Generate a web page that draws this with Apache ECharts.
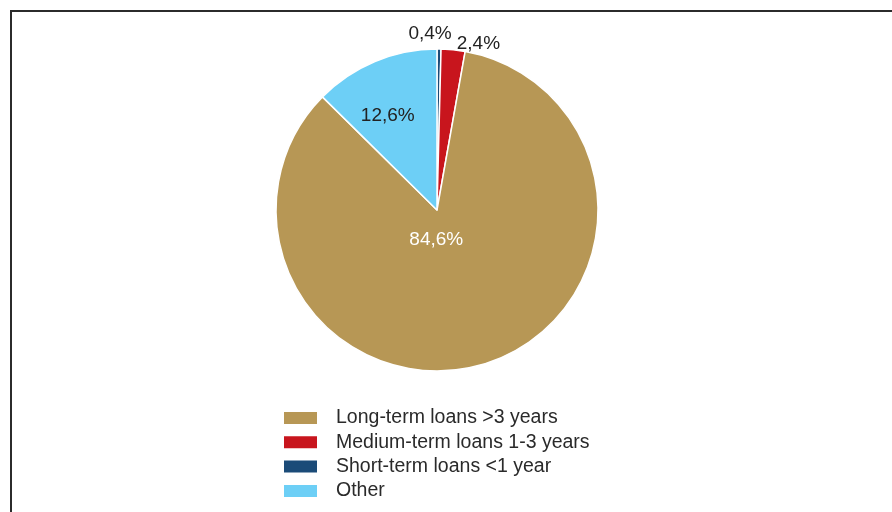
<!DOCTYPE html>
<html>
<head>
<meta charset="utf-8">
<script src="https://cdn.jsdelivr.net/npm/echarts@6/dist/echarts.min.js"></script>
<style>
html,body{margin:0;padding:0;background:#fff;}
#chart{width:892px;height:512px;}
</style>
</head>
<body>
<div id="chart"></div>
<script>
// Data
const categories = ['Short-term loans <1 year', 'Medium-term loans 1-3 years', 'Long-term loans >3 years', 'Other'];
const values = [0.4, 2.4, 84.6, 12.6];
const legendOrder = ['Long-term loans >3 years', 'Medium-term loans 1-3 years', 'Short-term loans <1 year', 'Other'];

// Styles
const colors = ['#1B4B78', '#C8151D', '#B79755', '#6DCFF6'];
const labelColors = ['#222', '#222', '#fff', '#222'];
const labelShift = [[-8, -93], [33, -83], [-26, -50], [-17, -17]];

const FONT = '"Liberation Sans", Arial, Helvetica, sans-serif';

const chart = echarts.init(document.getElementById('chart'), null, {renderer: 'canvas'});
const option = {
  backgroundColor: '#fff',
  animation: false,
  graphic: [{
    type: 'rect',
    shape: {x: 11, y: 11, width: 1000, height: 1000},
    style: {fill: 'none', stroke: '#2b2b2b', lineWidth: 2},
    silent: true
  }],
  legend: {
    data: legendOrder,
    orient: 'vertical',
    left: 277,
    top: 403,
    itemWidth: 35,
    itemHeight: 14,
    itemGap: 4.3,
    icon: 'rect',
    textStyle: {fontFamily: FONT, fontSize: 19.5, color: '#2a2a2a', padding: [0, 0, 0, 13]},
    selectedMode: false
  },
  series: [{
    type: 'pie',
    center: [437, 210],
    radius: [0, 161],
    startAngle: 90,
    clockwise: true,
    avoidLabelOverlap: false,
    itemStyle: {borderColor: '#fff', borderWidth: 1.5},
    label: {
      show: true,
      position: 'inside',
      fontFamily: FONT,
      fontSize: 19,
      formatter: function (p) { return String(p.value).replace('.', ',') + '%'; }
    },
    labelLine: {show: false},
    emphasis: {disabled: true},
    labelLayout: function (p) {
      const s = labelShift[p.dataIndex];
      return {dx: s[0], dy: s[1]};
    },
    data: categories.map((name, i) => ({
      name: name,
      value: values[i],
      itemStyle: {color: colors[i]},
      label: {color: labelColors[i]}
    }))
  }]
};
chart.setOption(option);
</script>
</body>
</html>
